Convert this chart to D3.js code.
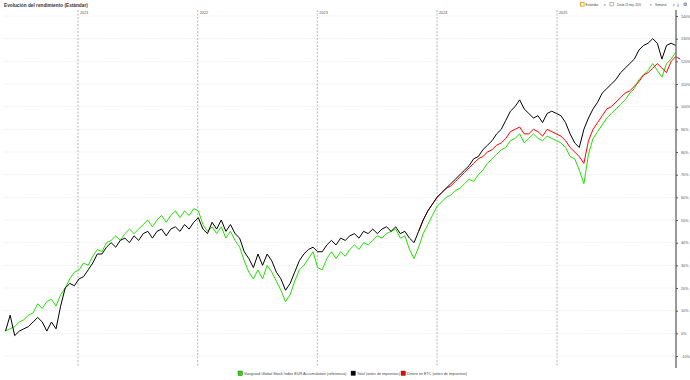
<!DOCTYPE html>
<html><head><meta charset="utf-8">
<script src="https://cdn.jsdelivr.net/npm/d3@7"></script>
<style>body{margin:0;background:#fff}svg{display:block;font-family:"Liberation Sans",Arial,sans-serif}</style>
</head><body><svg id="c" width="690" height="380"></svg>
<script>
const startDate = "2020-05-25";
const stepDays = 14;
const yearTicks = ["2021","2022","2023","2024","2025"];
const yTicks = [-10,0,10,20,30,40,50,60,70,80,90,100,110,120,130,140];
const seriesNames = ["Vanguard Global Stock Index EUR Accumulation (referencia)","Total (antes de impuestos)","Dinero en ETC (antes de impuestos)"];
const benchmark = [1,2,3,5,6,8,9,13,11,14,15,12,17,20,24,27,28,31,30,34,37,36,40,41,43,41,44,46,44,46,48,50,47,50,52,49,52,54,51,54,52,55,54,48,45,47,44,47,42,45,41,38,32,27,24,28,24,30,27,23,19,14,17,23,28,30,33,36,29,28,33,36,33,36,34,37,39,37,40,39,41,43,42,44,45,46,42,43,37,33,38,44,48,52,56,58,60,61,63,64,66,68,67,70,72,75,77,79,81,82,85,86,88,84,86,88,86,85,87,86,85,84,82,78,77,72,66,79,86,89,92,95,97,99,101,103,106,108,112,114,116,119,116,113,119,121,124];
const total = [1,8,-1,1,2,3,5,7,5,1,5,2,12,20,22,21,24,25,28,31,35,35,38,40,38,41,42,40,43,41,44,45,42,45,46,43,46,47,45,48,46,49,51,46,44,49,46,50,45,48,44,42,36,33,29,35,30,35,32,27,24,19,22,27,32,35,37,38,36,36,39,41,39,42,41,43,44,42,45,44,46,44,46,47,45,47,44,45,42,40,45,50,54,57,60,62,64,66,68,70,72,74,77,78,81,83,85,88,90,94,98,100,103,99,97,95,96,93,97,98,97,96,93,88,84,82,90,95,99,102,106,108,110,112,115,117,119,121,125,127,128,130,128,121,127,128,127];
const etcStart = 90;
const etc = [45,50,54,57,60,62,64,65,67,69,71,73,75,77,78,80,81,83,84,86,89,90,91,88,88,90,89,87,90,89,88,87,85,82,80,78,75,85,90,93,96,99,100,102,104,106,107,109,111,114,115,117,119,117,115,120,122,121];
const colors = ["#22e000","#000000","#ff0000"];

const svg = d3.select("#c");
const parse = d3.timeParse("%Y-%m-%d");
const d0 = parse(startDate);
const dateAt = i => d3.timeDay.offset(d0, i*stepDays);

const x = d3.scaleTime().domain([parse("2021-01-01"), parse("2025-01-01")]).range([78, 557]);
const y = d3.scaleLinear().domain([-10,140]).range([356,16]);
const plotL = 4, plotR = 676, plotT = 10, plotB = 366;

// horizontally squeezed text that fits a given width (real glyphs, scaled)
function fitText(parent, t, xx, yy, w, size, attrs) {
  const g = parent.append("g").attr("transform", `translate(${xx},${yy})`);
  const tx = g.append("text").attr("font-size", size).text(t);
  if (attrs) Object.entries(attrs).forEach(([k,v]) => tx.attr(k,v));
  const nat = tx.node().getComputedTextLength();
  const s = Math.min(1, w / nat);
  tx.attr("transform", `scale(${s},1)`);
  return tx;
}

// title
fitText(svg, "Evolución del rendimiento (Estándar)", 4, 7, 84, 5, {"font-weight":"bold","fill":"#333"});

// top-right controls
const ctl = svg.append("g").attr("fill","#444");
const caret = xx => ctl.append("text").attr("x",xx).attr("y",5.8).attr("font-size",2.8).text("▾");
ctl.append("rect").attr("x",580.5).attr("y",2.5).attr("width",3.6).attr("height",3.6).attr("fill","none").attr("stroke","#f39a1e").attr("stroke-width",0.9);
fitText(ctl, "Estándar", 585.5, 6, 13, 4);
caret(603.5);
ctl.append("rect").attr("x",610).attr("y",2.5).attr("width",3.4).attr("height",3.4).attr("fill","none").attr("stroke","#777").attr("stroke-width",0.5);
fitText(ctl, "Desde 25 may. 2020", 617, 6, 24, 4);
caret(650);
fitText(ctl, "Semanal", 655, 6, 11.5, 4);
caret(672.5);
ctl.append("text").attr("x",677).attr("y",6.2).attr("font-size",4.6).text("⤓");
ctl.append("text").attr("x",683).attr("y",6.2).attr("font-size",4.6).text("⚙");

// horizontal grid
svg.append("g").selectAll("line").data(yTicks).join("line")
  .attr("x1",plotL).attr("x2",plotR).attr("y1",d=>y(d)).attr("y2",d=>y(d))
  .attr("stroke","#d8d8d8").attr("stroke-width",0.6).attr("stroke-dasharray","1,1.5");

// year lines
const yl = svg.append("g");
yearTicks.forEach(t=>{
  const xx = x(parse(t+"-01-01"));
  yl.append("line").attr("x1",xx).attr("x2",xx).attr("y1",plotT).attr("y2",plotB)
    .attr("stroke","#9a9a9a").attr("stroke-width",0.7).attr("stroke-dasharray","2,1.5");
  yl.append("text").attr("x",xx+2).attr("y",13.5).attr("font-size",3.8).attr("fill","#555").text(t);
});

// lines
const line = (arr, off) => d3.line().x((d,i)=>x(dateAt(i+off))).y(d=>y(d))(arr);
svg.append("path").attr("d",line(benchmark,0)).attr("fill","none").attr("stroke",colors[0]).attr("stroke-width",1);
svg.append("path").attr("d",line(etc,etcStart)).attr("fill","none").attr("stroke",colors[2]).attr("stroke-width",1);
svg.append("path").attr("d",line(total,0)).attr("fill","none").attr("stroke",colors[1]).attr("stroke-width",1);

// right axis
const ax = svg.append("g").attr("transform",`translate(${plotR},0)`)
  .call(d3.axisRight(y).tickValues(yTicks).tickSize(2).tickFormat(d=>d+"%"));
ax.select(".domain").attr("d",`M0,${plotT}V${plotB+2}`).attr("stroke","#555").attr("stroke-width",1.2);
ax.selectAll(".tick line").attr("stroke","#555");
ax.selectAll(".tick text").attr("font-size",3.8).attr("fill","#555").attr("x",5);

// legend
const lg = svg.append("g").attr("fill","#444");
const lx = [238, 351, 401];
const lw = [104, 43, 60];
seriesNames.forEach((n,i)=>{
  lg.append("rect").attr("x",lx[i]).attr("y",371).attr("width",4.5).attr("height",4.5).attr("fill",colors[i]).attr("stroke","#333").attr("stroke-width",0.4);
  fitText(lg, n, lx[i]+6, 375, lw[i], 3.8);
});
</script></body></html>
